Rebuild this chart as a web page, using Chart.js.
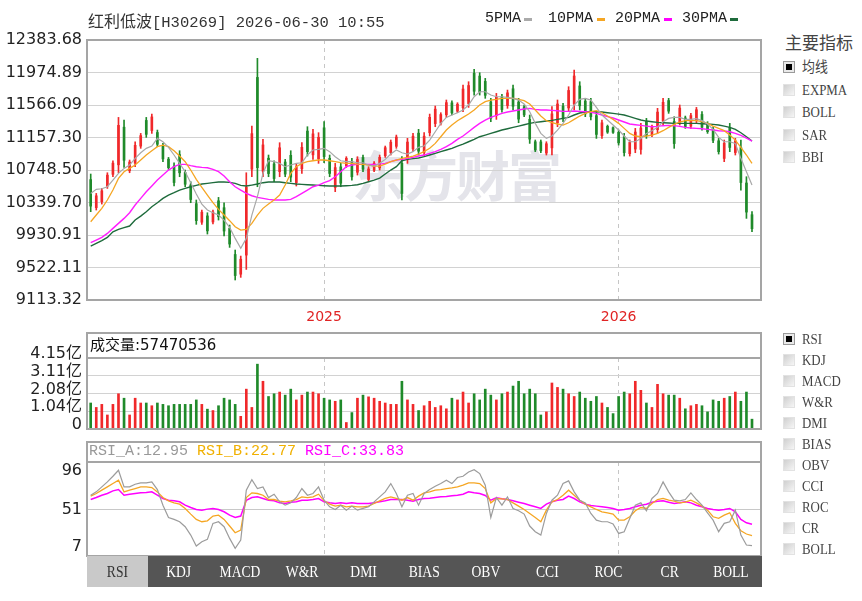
<!DOCTYPE html>
<html>
<head>
<meta charset="utf-8">
<script src="https://cdn.jsdelivr.net/npm/chart.js"></script>
<style>
  body { margin: 0; width: 862px; height: 601px; overflow: hidden; position: relative; background: #fff;
         font-family: "DejaVu Sans", "Noto Sans CJK SC", sans-serif; }
  .abs { position: absolute; white-space: nowrap; }
  canvas { position: absolute; left: 0; }
  .frame { position: absolute; border: 2px solid #a5a5a5; box-sizing: border-box; pointer-events: none; }
  .sep { position: absolute; left: 86px; width: 676px; height: 2px; background: #a5a5a5; }
  .mono { font-family: "Liberation Mono", monospace; }
  .serif { font-family: "Liberation Serif", "Noto Sans CJK SC", serif; display: inline-block; transform: scaleX(0.86); transform-origin: left center; }
  .box { position: absolute; left: 783px; width: 12px; height: 12px; box-sizing: border-box;
         background: linear-gradient(135deg, #cfcfcf, #f6f6f6); border: 1px solid #e2e2e2; }
  .box.on { border: 1px solid #9a9a9a; background: #e9e9e9; }
  .box.on::after { content: ""; position: absolute; left: 2px; top: 2px; width: 6px; height: 6px; background: #000; }
  .opt { position: absolute; left: 802px; font-size: 15px; color: #444; line-height: 18px; }
  .tabs { position: absolute; left: 87px; top: 556px; width: 675px; height: 31px; background: #555; display: flex; }
  .tab { flex: 1; text-align: center; line-height: 31px; color: #fff; font-size: 16px; font-family: "Liberation Serif", serif; }
  .tab span { display: inline-block; transform: scaleX(0.85); }
  .tab.on { background: #c9c9c9; color: #333; }
  .dash { position: absolute; top: 18px; width: 8px; height: 3px; }
</style>
</head>
<body>
<div class="abs" style="left:352px;top:134px;font-size:54px;font-weight:bold;letter-spacing:-2px;color:#e4e4ea;font-family:'Noto Sans CJK SC'">东方财富</div>

<canvas id="mainChart" width="762" height="330" style="top:0"></canvas>
<canvas id="volChart" width="762" height="119" style="top:330px"></canvas>
<canvas id="rsiChart" width="762" height="136" style="top:440px"></canvas>

<div class="frame" style="left:86px;top:39px;width:676px;height:262px"></div>
<div class="frame" style="left:86px;top:332px;width:676px;height:98px"></div>
<div class="sep" style="top:357px"></div>
<div class="frame" style="left:86px;top:441px;width:676px;height:116px"></div>
<div class="sep" style="top:461px"></div>

<div class="abs" style="left:88px;top:9px;font-size:16px;color:#333;line-height:22px">
  <span style="font-family:'Noto Sans CJK SC'">红利低波</span><span class="mono" style="font-size:15.5px">[H30269] 2026-06-30 10:55</span>
</div>

<div class="abs mono" style="left:485px;top:10px;font-size:15px;color:#222">5PMA</div>
<div class="dash" style="left:524px;background:#aaaaaa"></div>
<div class="abs mono" style="left:548px;top:10px;font-size:15px;color:#222">10PMA</div>
<div class="dash" style="left:597px;background:#f5a623"></div>
<div class="abs mono" style="left:615px;top:10px;font-size:15px;color:#222">20PMA</div>
<div class="dash" style="left:664px;background:#ff00ff"></div>
<div class="abs mono" style="left:682px;top:10px;font-size:15px;color:#222">30PMA</div>
<div class="dash" style="left:730px;background:#1e6b3c"></div>

<div class="abs" style="left:90px;top:335px;font-size:15px;color:#111;line-height:20px">成交量:57470536</div>

<div class="abs mono" style="left:89px;top:443px;font-size:15px;line-height:18px">
  <span style="color:#999">RSI_A:12.95</span> <span style="color:#f0b000">RSI_B:22.77</span> <span style="color:#ff00ff">RSI_C:33.83</span>
</div>

<div class="tabs">
  <div class="tab on"><span>RSI</span></div><div class="tab"><span>KDJ</span></div><div class="tab"><span>MACD</span></div>
  <div class="tab"><span>W&amp;R</span></div><div class="tab"><span>DMI</span></div><div class="tab"><span>BIAS</span></div>
  <div class="tab"><span>OBV</span></div><div class="tab"><span>CCI</span></div><div class="tab"><span>ROC</span></div>
  <div class="tab"><span>CR</span></div><div class="tab"><span>BOLL</span></div>
</div>

<div class="abs" style="left:785px;top:31px;font-size:17px;color:#444;font-family:'Noto Sans CJK SC';line-height:22px">主要指标</div>
<div id="sidePanel"></div>

<script>
// weekly candles, 120 bars
const yearIdx = [42, 95];
const yearLabels = ['2025', '2026'];
const priceTicks = [9113.32, 9522.11, 9930.91, 10339.70, 10748.50, 11157.30, 11566.09, 11974.89, 12383.68];
const volTicks = [0, 1.04, 2.08, 3.11, 4.15];
const rsiTicks = [7, 51, 96];

const openP = [10628,10275,10350,10547,10694,10814,11287,10739,10835,11049,
  11372,11245,11220,11048,10885,10796,10942,10717,10561,10325,
  10092,10171,10095,10361,10274,10014,9686,9438,9678,10759,
  11913,10734,10897,10825,10728,10849,10933,10590,10764,11238,
  10939,10890,11279,10896,10529,10788,10801,10854,10720,10906,
  10629,10746,10776,10928,10965,11046,10834,10879,11014,11212,
  10968,11217,11332,11337,11443,11593,11488,11532,11584,11966,
  11930,11863,11606,11434,11666,11559,11770,11604,11544,11386,
  11104,11102,10962,11027,11343,11552,11529,11578,11806,11615,
  11609,11432,11181,11298,11280,11223,11166,10954,11012,11007,
  11360,11189,11256,11364,11622,11359,11352,11404,11300,11372,
  11447,11334,11263,11116,10894,11282,10968,11031,10585,10186];
const closeP = [10294,10424,10487,10684,10835,11310,10871,10849,11059,11181,
  11197,11416,11072,10888,10778,10591,10713,10569,10377,10111,
  10218,9983,10219,10162,9981,9817,9421,9626,10534,11206,
  10778,11064,10704,10641,11028,10697,10659,10789,11034,10979,
  11203,11160,10917,10705,10779,10582,10896,10663,10881,10758,
  10762,10834,10909,11029,11098,11163,10453,11100,11174,10985,
  11174,11411,11514,11446,11596,11467,11576,11767,11811,11739,
  11733,11688,11400,11663,11509,11719,11550,11389,11441,11137,
  11001,10990,11079,11455,11579,11391,11749,11931,11556,11454,
  11418,11196,11342,11225,11222,11090,10967,11096,11226,11277,
  11184,11292,11477,11600,11489,11081,11528,11295,11433,11507,
  11286,11231,11122,10979,11085,11032,11115,10591,10219,10010];
const highP = [10698,10454,10517,10714,10865,11410,11377,10874,11104,11209,
  11410,11452,11251,11083,10907,10840,10991,10748,10601,10371,
  10245,10211,10245,10404,10337,10056,9742,9666,10714,11301,
  12153,11134,10937,10865,11092,10882,10991,10832,11092,11293,
  11260,11218,11356,10937,10832,10832,10916,10895,10916,10937,
  10790,10853,10937,11050,11126,11188,10916,11147,11209,11260,
  11218,11452,11553,11469,11629,11620,11595,11817,11859,12014,
  11972,11901,11650,11712,11700,11754,11817,11650,11566,11440,
  11126,11126,11104,11545,11629,11587,11796,12006,11859,11650,
  11650,11482,11377,11314,11293,11251,11209,11126,11272,11335,
  11398,11314,11524,11650,11650,11419,11566,11427,11461,11536,
  11482,11356,11293,11146,11126,11335,11146,11126,10664,10224];
const lowP = [10224,10245,10320,10517,10664,10714,10781,10714,10790,11021,
  11159,11209,11041,10853,10756,10547,10664,10538,10337,10065,
  10065,9943,10069,10119,9918,9775,9365,9398,9498,10664,
  10538,10664,10664,10601,10664,10664,10601,10547,10706,10924,
  10882,10832,10840,10664,10476,10538,10781,10622,10685,10727,
  10601,10727,10748,10907,10937,11021,10371,10832,10979,10937,
  10924,11176,11293,11314,11410,11440,11469,11482,11536,11691,
  11691,11650,11356,11385,11475,11524,11503,11343,11419,11083,
  10979,10966,10937,10937,11293,11356,11482,11503,11503,11419,
  11377,11146,11146,11209,11209,11062,10924,10924,10966,10949,
  11146,11167,11209,11314,11461,11021,11314,11272,11272,11343,
  11251,11209,11092,10949,10853,10979,10937,10496,10140,9972];
// volume in 亿 shares
const volume = [1.52,1.26,1.44,0.82,1.44,2.06,1.80,0.82,1.80,1.52,
  1.52,1.36,1.52,1.44,1.36,1.44,1.44,1.44,1.44,1.70,
  1.44,1.16,1.08,1.36,1.80,1.70,1.44,0.74,2.33,1.26,
  3.79,2.79,1.90,2.06,2.16,1.98,2.33,1.70,1.98,2.16,
  2.16,2.06,1.80,1.70,1.62,1.70,0.38,0.96,1.80,1.98,
  1.88,1.80,1.62,1.52,1.44,1.44,2.79,1.70,1.44,1.08,
  1.36,1.62,1.26,1.36,1.18,1.80,1.70,2.16,1.52,2.06,
  1.70,2.33,1.98,1.70,2.06,2.16,2.51,2.79,2.06,2.33,
  2.06,0.82,1.00,2.69,2.43,2.33,2.06,1.90,2.16,1.80,
  1.62,1.90,1.52,1.26,0.90,1.90,2.16,2.06,2.79,2.26,
  1.52,1.26,2.61,2.06,1.98,1.98,1.80,1.18,1.36,1.44,
  1.36,1.00,1.70,1.62,1.80,1.90,2.16,1.62,2.16,0.5747];

const ma5 = [10454,10505,10513,10538,10622,10706,10769,10811,10895,10966,
  11021,11050,11146,11104,11033,10937,10832,10727,10589,10446,
  10320,10245,10211,10182,10119,10027,9888,9763,9888,10182,
  10413,10706,10865,10853,10832,10790,10811,10832,10840,10937,
  11000,11008,11021,10979,10916,10865,10853,10853,10840,10840,
  10811,10798,10832,10882,10949,11000,10966,10949,10979,11033,
  11050,11125,11230,11335,11410,11440,11469,11503,11566,11670,
  11733,11733,11691,11670,11670,11662,11649,11628,11578,11482,
  11335,11209,11146,11176,11251,11335,11440,11566,11637,11649,
  11628,11536,11440,11377,11314,11251,11176,11104,11104,11146,
  11209,11243,11285,11356,11398,11410,11410,11385,11385,11394,
  11369,11327,11259,11159,11104,11104,11083,10895,10727,10559];
const ma10 = [10098,10182,10266,10371,10496,10643,10727,10769,10811,10874,
  10937,10991,11042,11062,11042,10991,10924,10853,10748,10631,
  10530,10433,10337,10253,10182,10111,10035,9993,10002,10077,
  10182,10266,10320,10371,10433,10559,10706,10790,10832,10853,
  10865,10874,10874,10865,10853,10840,10832,10832,10823,10819,
  10811,10798,10798,10823,10853,10874,10895,10907,10924,10949,
  10979,11021,11083,11167,11251,11314,11369,11410,11452,11503,
  11566,11608,11628,11637,11649,11649,11649,11637,11620,11578,
  11503,11427,11369,11343,11327,11314,11343,11385,11427,11461,
  11482,11494,11469,11427,11385,11335,11272,11209,11176,11167,
  11176,11188,11209,11243,11285,11322,11352,11369,11369,11369,
  11356,11335,11301,11272,11243,11188,11125,11033,10937,10832];
const ma20 = [9834,9867,9901,9951,10014,10077,10140,10211,10308,10392,
  10475,10547,10622,10685,10748,10790,10819,10819,10803,10790,
  10782,10777,10756,10727,10673,10601,10538,10496,10454,10425,
  10404,10392,10379,10371,10371,10371,10379,10413,10454,10496,
  10538,10559,10589,10614,10664,10727,10790,10811,10819,10819,
  10819,10819,10823,10832,10853,10874,10882,10895,10907,10924,
  10937,10958,10979,11008,11042,11083,11134,11176,11230,11285,
  11335,11377,11410,11436,11461,11478,11490,11503,11515,11524,
  11511,11503,11503,11499,11494,11486,11486,11490,11486,11482,
  11473,11461,11440,11419,11402,11377,11352,11327,11318,11310,
  11301,11293,11297,11306,11310,11306,11297,11285,11276,11272,
  11268,11259,11251,11243,11239,11230,11209,11184,11150,11113];
const ma30 = [9792,9825,9859,9901,9972,10002,10023,10044,10119,10169,
  10224,10287,10337,10392,10433,10463,10496,10517,10538,10555,
  10572,10580,10589,10597,10597,10593,10580,10555,10547,10559,
  10572,10589,10597,10597,10597,10589,10580,10572,10568,10563,
  10559,10555,10551,10547,10547,10547,10551,10555,10563,10580,
  10601,10622,10647,10698,10748,10790,10865,10882,10891,10899,
  10916,10937,10958,10979,11000,11021,11050,11075,11104,11134,
  11167,11188,11209,11230,11251,11268,11285,11301,11318,11335,
  11348,11356,11364,11373,11385,11398,11410,11440,11465,11478,
  11482,11482,11478,11469,11461,11452,11440,11419,11398,11377,
  11364,11356,11348,11343,11339,11335,11335,11335,11335,11335,
  11331,11327,11322,11314,11301,11285,11259,11217,11167,11113];

const rsiA = [67.7,71.6,77.4,83.2,89.8,96.8,77.4,77.4,80.5,82.1,
  82.1,83.2,74.3,56.1,41.8,39.5,36.8,31.0,21.3,8.5,
  13.6,16.3,34.9,36.8,31.0,17.4,5.8,15.5,73.6,85.9,
  75.5,77.4,65.0,68.9,60.0,56.1,58.8,65.0,75.5,67.7,
  69.7,77.4,61.9,54.2,51.1,56.1,50.3,55.0,50.3,52.3,
  54.2,60.0,65.8,71.6,81.3,69.7,54.2,67.7,69.7,56.1,
  69.7,74.3,78.2,81.3,85.2,81.3,88.3,89.8,94.8,97.5,
  92.9,79.4,41.8,65.0,56.1,65.8,52.3,49.6,45.7,31.8,
  25.2,21.3,46.5,61.9,67.7,81.3,84.4,71.6,61.9,58.8,
  46.5,38.7,36.8,36.8,34.1,23.2,25.2,40.7,56.1,58.8,
  49.6,63.9,69.7,83.2,71.6,61.9,61.2,62.7,70.5,62.7,
  56.1,47.2,38.7,25.2,34.9,36.8,50.3,21.3,9.7,9.0];
const rsiB = [66.6,69.7,73.6,77.4,81.3,85.2,71.6,73.6,75.5,77.4,
  77.4,76.6,71.6,65.0,61.2,58.8,57.3,52.3,45.7,39.5,
  36.8,37.9,43.4,44.5,39.5,31.8,24.0,27.1,65.0,70.5,
  69.7,67.7,62.7,62.7,60.8,60.0,61.2,62.7,65.8,65.0,
  65.8,68.9,61.2,57.3,55.0,56.1,54.2,55.0,54.2,54.2,
  55.0,58.1,61.2,63.9,65.8,63.9,61.9,65.0,61.9,66.6,
  70.5,71.6,73.6,74.3,75.5,76.3,77.4,79.4,82.1,82.1,
  81.3,75.5,58.8,63.9,63.5,62.7,58.8,55.0,51.1,46.5,
  41.8,36.8,50.3,60.0,62.7,67.7,73.6,67.7,61.9,57.3,
  54.2,51.1,48.4,47.2,45.7,38.7,38.7,42.6,49.6,53.4,
  52.3,58.1,62.7,63.9,61.9,60.8,58.8,59.6,61.9,58.8,
  55.0,50.3,42.6,40.7,44.5,47.2,34.9,26.3,22.5,20.5];
const rsiC = [62.7,65.0,67.7,69.7,72.8,74.3,67.7,68.9,69.7,70.5,
  70.8,71.6,67.7,63.9,61.9,61.2,60.0,56.1,53.4,51.1,
  50.3,51.5,52.3,51.1,48.4,44.5,41.8,43.4,61.9,65.0,
  65.8,63.9,61.9,61.2,58.8,58.1,59.6,60.0,61.9,61.9,
  62.7,63.9,60.0,58.8,58.1,58.8,58.1,58.8,58.1,58.1,
  58.1,58.8,60.0,61.2,62.7,62.7,62.7,61.9,60.8,62.7,
  63.9,64.3,65.0,65.8,66.2,67.0,67.7,68.9,71.6,70.5,
  69.7,67.4,61.9,64.6,63.5,62.7,61.2,59.6,58.1,56.1,
  54.2,52.3,57.3,60.0,61.9,62.7,66.6,63.9,60.0,57.3,
  55.7,55.0,54.2,53.4,52.3,50.3,51.1,52.3,54.2,56.1,
  57.3,59.6,60.8,61.2,59.6,58.1,58.8,60.0,58.8,56.1,
  54.2,52.3,51.1,50.3,51.1,52.3,48.4,39.5,35.6,33.8];

const mainOpts = ['均线', 'EXPMA', 'BOLL', 'SAR', 'BBI'];
const subOpts = ['RSI', 'KDJ', 'MACD', 'W&R', 'DMI', 'BIAS', 'OBV', 'CCI', 'ROC', 'CR', 'BOLL'];

// side panel
const panel = document.getElementById('sidePanel');
function addOpt(text, cy, on) {
  const b = document.createElement('div');
  b.className = 'box' + (on ? ' on' : '');
  b.style.top = (cy - 6) + 'px';
  panel.appendChild(b);
  const t = document.createElement('div');
  t.className = 'opt';
  t.style.top = (cy - 9) + 'px';
  const s = document.createElement('span');
  s.className = 'serif';
  s.textContent = text;
  t.appendChild(s);
  panel.appendChild(t);
}
mainOpts.forEach((t, i) => addOpt(t, 67 + i * 22.5, i === 0));
subOpts.forEach((t, i) => addOpt(t, 339 + i * 21, i === 0));

Chart.defaults.font.family = '"DejaVu Sans", "Noto Sans CJK SC", sans-serif';
Chart.defaults.animation = false;

const RED = '#f0282a';
const GREEN = '#1f8a2a';
const idx = closeP.map((_, i) => i);
const candleColor = closeP.map((c, i) => c >= openP[i] ? RED : GREEN);
const pts = arr => arr.map((v, i) => ({ x: i, y: v }));

// bottom axis height; sub panels keep 20px so the y labels' padding does not push the plot up
function xScale(showLabels, h) {
  return {
    type: 'linear', min: -0.666, max: 120.62, offset: false,
    afterBuildTicks: s => { s.ticks = yearIdx.map(v => ({ value: v })); },
    afterFit: s => { s.height = h; },
    grid: { color: '#c6c6c6', drawTicks: false, offset: false },
    border: { display: false, dash: [4, 4] },
    ticks: {
      display: showLabels, autoSkip: false, maxRotation: 0, padding: 9, color: '#e02424',
      font: { size: 14 },
      callback: v => yearLabels[yearIdx.indexOf(v)]
    }
  };
}
function yScale(min, max, ticks, fmt, gridColor, labelOffset) {
  return {
    min: min, max: max,
    afterBuildTicks: s => { s.ticks = ticks.map(v => ({ value: v })); },
    afterFit: s => { s.width = 87; },
    grid: { drawTicks: false, color: gridColor },
    border: { display: false },
    ticks: { padding: 5, color: '#222', font: { size: 16 }, autoSkip: false, labelOffset: labelOffset || 0, callback: fmt }
  };
}
const noPlugins = { legend: { display: false }, tooltip: { enabled: false } };
const maLine = (label, arr, color, w) => ({
  type: 'line', label: label, data: pts(arr), borderColor: color, borderWidth: w,
  pointRadius: 0, tension: 0, order: 1
});

new Chart(document.getElementById('mainChart'), {
  type: 'bar',
  data: {
    datasets: [
      maLine('5PMA', ma5, '#a8a8a8', 1.2),
      maLine('10PMA', ma10, '#f5a623', 1.3),
      maLine('20PMA', ma20, '#ff1cff', 1.4),
      maLine('30PMA', ma30, '#1e6b3c', 1.4),
      { type: 'bar', label: 'body', data: idx.map(i => ({ x: i, y: [openP[i], closeP[i]] })),
        backgroundColor: candleColor, barThickness: 2, grouped: false, minBarLength: 1, order: 2 },
      { type: 'bar', label: 'wick', data: idx.map(i => ({ x: i, y: [lowP[i], highP[i]] })),
        backgroundColor: candleColor, barThickness: 1, grouped: false, order: 3 }
    ]
  },
  options: {
    responsive: false, maintainAspectRatio: false,
    layout: { padding: { top: 40, right: 1, left: 0, bottom: 0 } },
    plugins: noPlugins,
    scales: {
      x: xScale(true, 30),
      y: yScale(9113.32, 12383.68, priceTicks, v => v.toFixed(2),
        c => (c.index === 0 || c.index === priceTicks.length - 1) ? 'rgba(0,0,0,0)' : '#d2d2d2')
    }
  }
});

new Chart(document.getElementById('volChart'), {
  type: 'bar',
  data: {
    datasets: [{ label: '成交量', data: pts(volume), backgroundColor: candleColor, barThickness: 2, grouped: false }]
  },
  options: {
    responsive: false, maintainAspectRatio: false,
    layout: { padding: { top: 28, right: 1, left: 0, bottom: 0 } },
    plugins: noPlugins,
    scales: {
      x: xScale(false, 20),
      y: yScale(0, 4.15, volTicks, v => v === 0 ? '0' : v.toFixed(2) + '亿',
        c => (c.index === 0 || c.index === volTicks.length - 1) ? 'rgba(0,0,0,0)' : '#d2d2d2', -4)
    }
  }
});

new Chart(document.getElementById('rsiChart'), {
  type: 'line',
  data: {
    datasets: [
      { label: 'RSI_A', data: pts(rsiA), borderColor: '#9c9c9c', borderWidth: 1.2, pointRadius: 0, tension: 0 },
      { label: 'RSI_B', data: pts(rsiB), borderColor: '#f5a623', borderWidth: 1.3, pointRadius: 0, tension: 0 },
      { label: 'RSI_C', data: pts(rsiC), borderColor: '#ff00ff', borderWidth: 1.5, pointRadius: 0, tension: 0 }
    ]
  },
  options: {
    responsive: false, maintainAspectRatio: false,
    layout: { padding: { top: 22, right: 1, left: 0, bottom: 0 } },
    plugins: noPlugins,
    scales: {
      x: xScale(false, 20),
      y: yScale(-3.1, 106.4, rsiTicks, v => String(v),
        c => c.tick && c.tick.value === 51 ? '#c8c8c8' : 'rgba(0,0,0,0)')
    }
  }
});
</script>
</body>
</html>
